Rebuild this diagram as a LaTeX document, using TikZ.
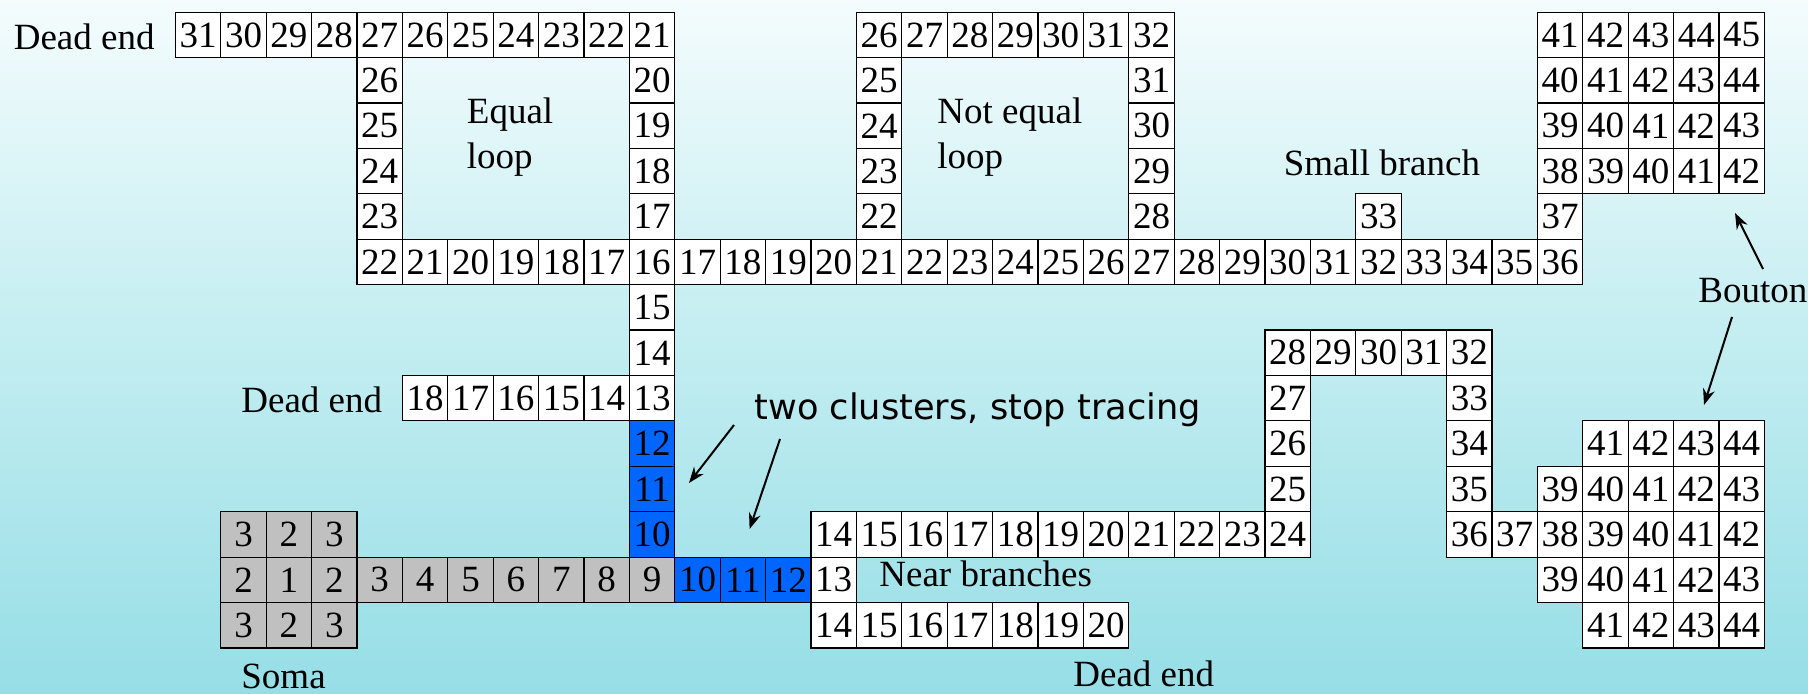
\documentclass[tikz,border=0pt]{standalone}
\usepackage{fontspec}
\setmainfont{Liberation Serif}
\newfontfamily\comicfont{DejaVu Sans}
\usetikzlibrary{arrows.meta}
\definecolor{bgtop}{RGB}{244,252,253}
\definecolor{bgmid}{RGB}{194,237,241}
\definecolor{bgbot}{RGB}{150,222,230}
\definecolor{cellblue}{RGB}{0,102,255}
\definecolor{cellgray}{RGB}{192,192,192}
\tikzset{
 cell/.style={draw=black, line width=0.6pt, fill=white, minimum width=22.7pt, minimum height=22.7pt, inner sep=0pt, font=\fontsize{18.5}{20}\selectfont},
 graycell/.style={cell, fill=cellgray},
 bluecell/.style={cell, fill=cellblue},
 lbl/.style={inner sep=0pt, anchor=base west, font=\fontsize{18.5}{20}\selectfont},
 note/.style={inner sep=0pt, anchor=base west, font=\comicfont\fontsize{17.6}{20}\selectfont},
 pointer/.style={line width=1pt, -{Stealth[length=8pt,width=6pt]}},
}
\newcommand\hrun[4]{\foreach \v [count=\k from 0] in {#4} {\pgfmathtruncatemacro\cc{#2+\k}\node[#1] (n-\cc-#3) at ({198.1+45.4*\cc},{35+45.4*#3}) {\v};}}
\newcommand\vrun[4]{\foreach \v [count=\k from 0] in {#4} {\pgfmathtruncatemacro\rr{#3+\k}\node[#1] (n-#2-\rr) at ({198.1+45.4*#2},{35+45.4*\rr}) {\v};}}
\begin{document}
\begin{tikzpicture}[x=0.5pt,y=-0.5pt]
\shade[top color=bgtop, bottom color=bgbot, middle color=bgmid] (0,0) rectangle (1808,694);
\useasboundingbox (0,0) rectangle (1808,694);
% equal loop region
\hrun{cell}{0}{0}{31,30,29,28,27,26,25,24,23,22,21}
\vrun{cell}{4}{1}{26,25,24,23}
\vrun{cell}{10}{1}{20,19,18,17}
\hrun{cell}{4}{5}{22,21,20,19,18,17,16,17,18,19,20,21,22,23,24,25,26,27,28,29,30,31,32,33,34,35,36}
% not equal loop
\hrun{cell}{15}{0}{26,27,28,29,30,31,32}
\vrun{cell}{15}{1}{25,24,23,22}
\vrun{cell}{21}{1}{31,30,29,28}
% small branch
\hrun{cell}{26}{4}{33}
% upper bouton
\hrun{cell}{30}{0}{41,42,43,44,45}
\hrun{cell}{30}{1}{40,41,42,43,44}
\hrun{cell}{30}{2}{39,40,41,42,43}
\hrun{cell}{30}{3}{38,39,40,41,42}
\hrun{cell}{30}{4}{37}
% trunk
\vrun{cell}{10}{6}{15,14,13}
\hrun{cell}{5}{8}{18,17,16,15,14}
\vrun{bluecell}{10}{9}{12,11,10}
% soma
\hrun{graycell}{1}{11}{3,2,3}
\hrun{graycell}{1}{12}{2,1,2,3,4,5,6,7,8,9}
\hrun{graycell}{1}{13}{3,2,3}
\hrun{bluecell}{11}{12}{10,11,12}
\hrun{cell}{14}{12}{13}
\hrun{cell}{14}{11}{14,15,16,17,18,19,20,21,22,23,24}
\hrun{cell}{14}{13}{14,15,16,17,18,19,20}
% lower right path
\vrun{cell}{24}{7}{28,27,26,25}
\hrun{cell}{25}{7}{29,30,31,32}
\vrun{cell}{28}{8}{33,34,35}
\hrun{cell}{28}{11}{36,37,38,39,40,41,42}
\hrun{cell}{31}{9}{41,42,43,44}
\hrun{cell}{30}{10}{39,40,41,42,43}
\hrun{cell}{30}{12}{39,40,41,42,43}
\hrun{cell}{31}{13}{41,42,43,44}
% labels
\node[lbl] (de1) at (13.4,49.3) {Dead end};
\node[lbl] (de2) at (241,413) {Dead end};
\node[lbl] (de3) at (1073,686) {Dead end};
\node[lbl] (soma) at (241,688) {Soma};
\node[lbl] (eq1) at (466.5,124) {Equal};
\node[lbl] (eq2) at (466.5,169) {loop};
\node[lbl] (ne1) at (937,124) {Not equal};
\node[lbl] (ne2) at (937,169) {loop};
\node[lbl] (sb) at (1283.4,175.7) {Small branch};
\node[lbl] (bt) at (1698,302.5) {Bouton};
\node[lbl] (nb) at (879,586) {Near branches};
\node[note] (tc) at (754,420) {two clusters, stop tracing};
% arrows
\coordinate (a1s) at (734,425); \coordinate (a1e) at (689,483);
\coordinate (a2s) at (780,439); \coordinate (a2e) at (749.6,529);
\coordinate (b1s) at (1763,269); \coordinate (b1e) at (1735,213);
\coordinate (b2s) at (1732,317); \coordinate (b2e) at (1704,405);
\draw[pointer] (a1s) -- (a1e);
\draw[pointer] (a2s) -- (a2e);
\draw[pointer] (b1s) -- (b1e);
\draw[pointer] (b2s) -- (b2e);
\end{tikzpicture}
\end{document}
